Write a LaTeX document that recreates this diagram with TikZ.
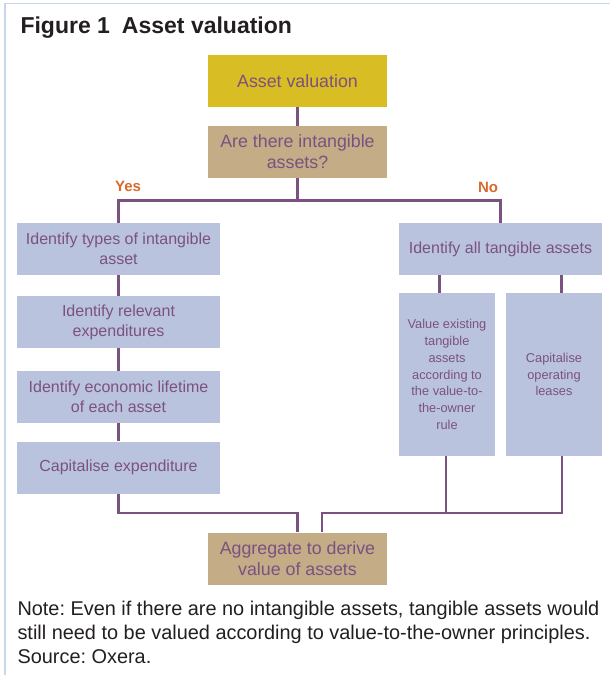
\documentclass[tikz,border=0pt]{standalone}
\usepackage{fontspec}
\setmainfont{Liberation Sans}
\definecolor{goldfill}{HTML}{D9BD24}
\definecolor{tanfill}{HTML}{C4AC87}
\definecolor{bluefill}{HTML}{BAC3DE}
\definecolor{plum}{HTML}{7B5181}
\definecolor{orangeink}{HTML}{D86A2B}
\definecolor{frameblue}{HTML}{C6D6EE}
\definecolor{titleink}{HTML}{231F20}
\frenchspacing

\begin{document}
\begin{tikzpicture}[x=1pt, y=-1pt,
    box/.style={rectangle, inner sep=0pt, align=center, text=plum},
    bigbox/.style={box, minimum width=179pt, minimum height=52pt, font=\fontsize{17.8}{21}\selectfont},
    stepbox/.style={box, fill=bluefill, minimum width=203pt, minimum height=52pt, font=\fontsize{16}{20}\selectfont},
    tallbox/.style={box, fill=bluefill, minimum width=96pt, minimum height=163pt, font=\fontsize{12.8}{16.9}\selectfont},
    link/.style={draw=plum, line width=2.5pt},
    yesno/.style={font=\bfseries\fontsize{15}{18}\selectfont, text=orangeink}]
    \useasboundingbox (0,0) rectangle (610,675);
    \draw[frameblue, line width=1.5pt] (5,675) -- (5,3.5) -- (610,3.5);
    \node[anchor=base west, text=titleink, font=\bfseries\fontsize{23}{27}\selectfont] (title) at (17,33) {Figure 1\hspace{12pt}Asset valuation};

    \node[bigbox, fill=goldfill] (start) at (297.5,81) {Asset valuation};
    \node[bigbox, fill=tanfill] (ask) at (297.5,152) {Are there intangible\\assets?};

    \node[stepbox] (kinds) at (118.5,249) {Identify types of intangible\\asset};
    \node[stepbox] (spend) at (118.5,322) {Identify relevant\\expenditures};
    \node[stepbox] (life) at (118.5,397) {Identify economic lifetime\\of each asset};
    \node[stepbox] (capex) at (118.5,467.5) {Capitalise expenditure};

    \node[stepbox] (tangible) at (500.5,249) {Identify all tangible assets};
    \node[tallbox] (owner) at (447,374.5) {Value existing\\tangible\\assets\\according to\\the value-to-\\the-owner\\rule};
    \node[tallbox] (leases) at (554,374.5) {Capitalise\\operating\\leases};

    \node[bigbox, fill=tanfill] (total) at (297.5,558.5) {Aggregate to derive\\value of assets};

    \node[yesno] (yes) at (128,186) {Yes};
    \node[yesno] (no) at (488,187) {No};

    \coordinate (fork) at (297.5,200.5);
    \coordinate (joinL) at (297.5,513);
    \coordinate (joinR) at (322,513);

    \draw[link] (start) -- (ask);
    \draw[link] (ask) -- (fork);
    \draw[link] (kinds.north) |- (fork) -| (tangible.north);
    \draw[link] (kinds) -- (spend);
    \draw[link] (spend) -- (life);
    \draw[link] (life) -- (capex);
    \draw[link] ([xshift=-61pt]tangible.south) -- ([xshift=-61pt]tangible.south |- owner.north);
    \draw[link] ([xshift=61pt]tangible.south) -- ([xshift=61pt]tangible.south |- leases.north);
    \draw[link] (capex.south) |- (joinL) -- (total.north);
    \draw[link] ([xshift=24.5pt]total.north) -- (joinR) -| ([xshift=8pt]leases.south);
    \draw[link] ([xshift=-1pt]owner.south) -- ([xshift=-1pt]owner.south |- joinR);

    \node[anchor=base west, align=left, text=titleink, font=\fontsize{19.9}{24}\selectfont] (note) at (14,663)
        {Note: Even if there are no intangible assets, tangible assets would\\still need to be valued according to value-to-the-owner principles.\\Source: Oxera.};
\end{tikzpicture}
\end{document}
